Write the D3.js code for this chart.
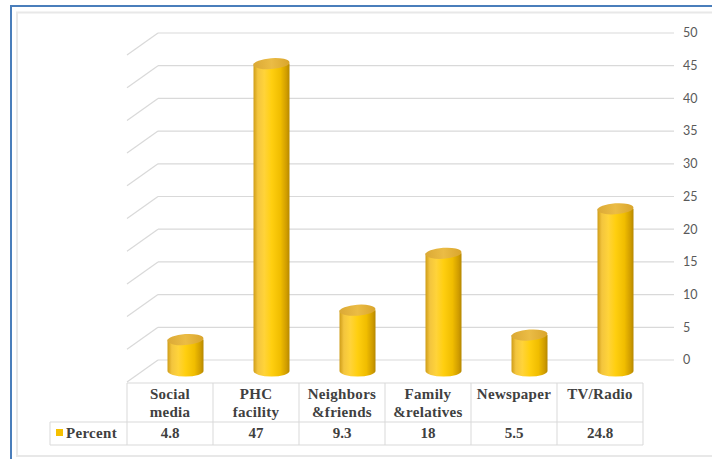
<!DOCTYPE html>
<html><head><meta charset="utf-8">
<script src="https://cdn.jsdelivr.net/npm/d3@7"></script>
<style>html,body{margin:0;padding:0;background:#fff;overflow:hidden}</style>
</head><body>
<svg id="c" width="712" height="459"></svg>
<script>
const categories = ["Social media","PHC facility","Neighbors &friends","Family &relatives","Newspaper","TV/Radio"];
const headerLines = [["Social","media"],["PHC","facility"],["Neighbors","&friends"],["Family","&relatives"],["Newspaper"],["TV/Radio"]];
const values = [4.8, 47, 9.3, 18, 5.5, 24.8];
const valueLabels = ["4.8","47","9.3","18","5.5","24.8"];
const seriesName = "Percent";
const ticks = [0,5,10,15,20,25,30,35,40,45,50];

const svg = d3.select("#c");
const depth = {dx: -31, dy: 22};
const x = d3.scaleBand().domain(categories).range([127, 643]);
const y = d3.scaleLinear().domain([0, 50]).range([360, 33]);

// frame
svg.append("rect").attr("x",11).attr("y",6).attr("width",720).attr("height",470)
  .attr("fill","none").attr("stroke","#4a7ebb").attr("stroke-width",2);
svg.append("rect").attr("x",17).attr("y",12.5).attr("width",720).attr("height",443.5)
  .attr("fill","none").attr("stroke","#e8e8e8").attr("stroke-width",2);

// defs
const defs = svg.append("defs");
const g1 = defs.append("linearGradient").attr("id","body").attr("x1","0").attr("x2","1").attr("y1","0").attr("y2","0");
[[0,"#cf9d18"],[0.12,"#f3c53e"],[0.3,"#ffd33a"],[0.5,"#ffcf10"],[0.75,"#f0bd00"],[0.92,"#cf9c00"],[1,"#b68800"]]
  .forEach(([o,c])=>g1.append("stop").attr("offset",o).attr("stop-color",c));
const g2 = defs.append("linearGradient").attr("id","topg").attr("x1","0").attr("x2","1").attr("y1","0").attr("y2","0");
[[0,"#dba935"],[0.5,"#ebbc45"],[1,"#d9a52c"]]
  .forEach(([o,c])=>g2.append("stop").attr("offset",o).attr("stop-color",c));

// gridlines (back wall + side wall diagonals)
const gx0 = x.range()[0] - depth.dx, gx1 = x.range()[1] - depth.dx;
const grid = svg.append("g");
ticks.forEach(t=>{
  grid.append("line").attr("x1",gx0).attr("x2",gx1).attr("y1",y(t)).attr("y2",y(t))
    .attr("stroke","#d9d9d9").attr("stroke-width",1.2);
  grid.append("line").attr("x1",gx0).attr("y1",y(t)).attr("x2",gx0+depth.dx).attr("y2",y(t)+depth.dy)
    .attr("stroke","#d9d9d9").attr("stroke-width",1.2);
});
// axis labels
svg.append("g").selectAll("text").data(ticks).join("text")
  .attr("x",683).attr("y",d=>y(d)).attr("dy","0.35em")
  .attr("font-family","Lato, 'Open Sans', sans-serif").attr("font-size",12.5)
  .attr("fill","#595959").text(d=>d);

// cylinders
const rx = 18, ry = 5.5;
const bars = svg.append("g");
categories.forEach((c,i)=>{
  const cx = x(c) + x.bandwidth()/2 - depth.dx/2;
  const baseY = y(0) + depth.dy/2;
  const topY = y(values[i]) + depth.dy/2;
  const path = `M${cx-rx},${topY} L${cx-rx},${baseY} A${rx},${ry} 0 0 0 ${cx+rx},${baseY} L${cx+rx},${topY} Z`;
  bars.append("path").attr("d",path).attr("fill","url(#body)");
  bars.append("ellipse").attr("cx",cx).attr("cy",topY).attr("rx",rx).attr("ry",ry)
    .attr("fill","url(#topg)").attr("transform",`rotate(-4 ${cx} ${topY})`);
});

// data table
const tb = svg.append("g");
const rTop = 383, rMid = 422, rBot = 445, hLeft = 50;
const lineCol = "#d9d9d9";
const xl = x.range()[0], xr = x.range()[1];
tb.append("line").attr("x1",xl).attr("x2",xr).attr("y1",rTop).attr("y2",rTop).attr("stroke",lineCol);
tb.append("line").attr("x1",hLeft).attr("x2",xr).attr("y1",rMid).attr("y2",rMid).attr("stroke",lineCol);
tb.append("line").attr("x1",hLeft).attr("x2",xr).attr("y1",rBot).attr("y2",rBot).attr("stroke",lineCol);
tb.append("line").attr("x1",hLeft).attr("x2",hLeft).attr("y1",rMid).attr("y2",rBot).attr("stroke",lineCol);
categories.forEach(c=>{
  tb.append("line").attr("x1",x(c)).attr("x2",x(c)).attr("y1",rTop).attr("y2",rBot).attr("stroke",lineCol);
});
tb.append("line").attr("x1",xr).attr("x2",xr).attr("y1",rTop).attr("y2",rBot).attr("stroke",lineCol);

const tfont = "'Liberation Serif','Times New Roman',serif";
categories.forEach((c,i)=>{
  const cx = x(c)+x.bandwidth()/2;
  headerLines[i].forEach((ln,j)=>{
    tb.append("text").attr("x",cx).attr("y",399+j*18).attr("text-anchor","middle")
      .attr("font-family",tfont).attr("font-weight","bold").attr("font-size",15)
      .attr("letter-spacing",0.3).attr("fill","#404040").text(ln);
  });
  tb.append("text").attr("x",cx).attr("y",438).attr("text-anchor","middle")
    .attr("font-family",tfont).attr("font-weight","bold").attr("font-size",15)
    .attr("fill","#404040").text(valueLabels[i]);
});
tb.append("rect").attr("x",56).attr("y",429).attr("width",7).attr("height",7).attr("fill","#f5c000");
tb.append("text").attr("x",66).attr("y",438).attr("font-family",tfont).attr("font-weight","bold")
  .attr("font-size",15).attr("letter-spacing",0.3).attr("fill","#404040").text(seriesName);
</script>
</body></html>
